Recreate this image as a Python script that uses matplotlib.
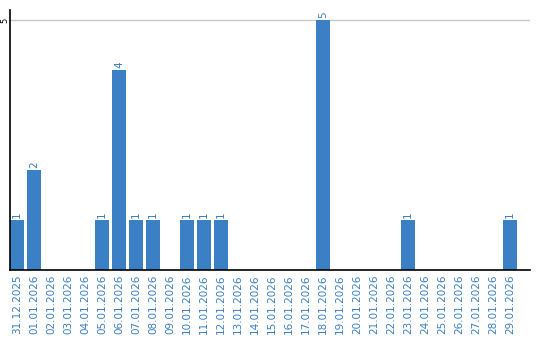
import matplotlib
matplotlib.use("Agg")
import matplotlib.pyplot as plt
import numpy as np

dates = [
    "31.12.2025", "01.01.2026", "02.01.2026", "03.01.2026", "04.01.2026",
    "05.01.2026", "06.01.2026", "07.01.2026", "08.01.2026", "09.01.2026",
    "10.01.2026", "11.01.2026", "12.01.2026", "13.01.2026", "14.01.2026",
    "15.01.2026", "16.01.2026", "17.01.2026", "18.01.2026", "19.01.2026",
    "20.01.2026", "21.01.2026", "22.01.2026", "23.01.2026", "24.01.2026",
    "25.01.2026", "26.01.2026", "27.01.2026", "28.01.2026", "29.01.2026",
]
counts = [1, 2, 0, 0, 0, 1, 4, 1, 1, 0,
          1, 1, 1, 0, 0, 0, 0, 0, 5, 0,
          0, 0, 0, 1, 0, 0, 0, 0, 0, 1]

blue = "#3b7fc4"

fig = plt.figure(figsize=(5.4, 3.4), dpi=100)
ax = fig.add_axes([10 / 540, 70 / 340, 520 / 540, 260 / 340])

x = np.arange(len(dates))
ax.bar(x, counts, width=14 / 17, color=blue, zorder=2)

for xi, c in zip(x, counts):
    if c > 0:
        ax.text(xi, c + 0.04, str(c), rotation=90, ha="center", va="bottom",
                fontsize=7.5, color=blue)

ax.set_xlim(-7 / 17, 30.18)
ax.set_ylim(0, 5.2)
ax.set_xticks(x)
ax.set_xticklabels(dates, rotation=90, fontsize=7.5, color=blue)
ax.set_yticks([5])
ax.set_yticklabels(["5"], rotation=90, fontsize=6, va="center")
ax.tick_params(axis="both", length=0, pad=3)
ax.tick_params(axis="y", pad=0.5)
ax.axhline(5, color="#c8c8c8", linewidth=1, zorder=1)

for side in ["top", "right"]:
    ax.spines[side].set_visible(False)
for side in ["left", "bottom"]:
    ax.spines[side].set_color("black")
    ax.spines[side].set_linewidth(1.2)

fig.savefig("out.png", dpi=100)
